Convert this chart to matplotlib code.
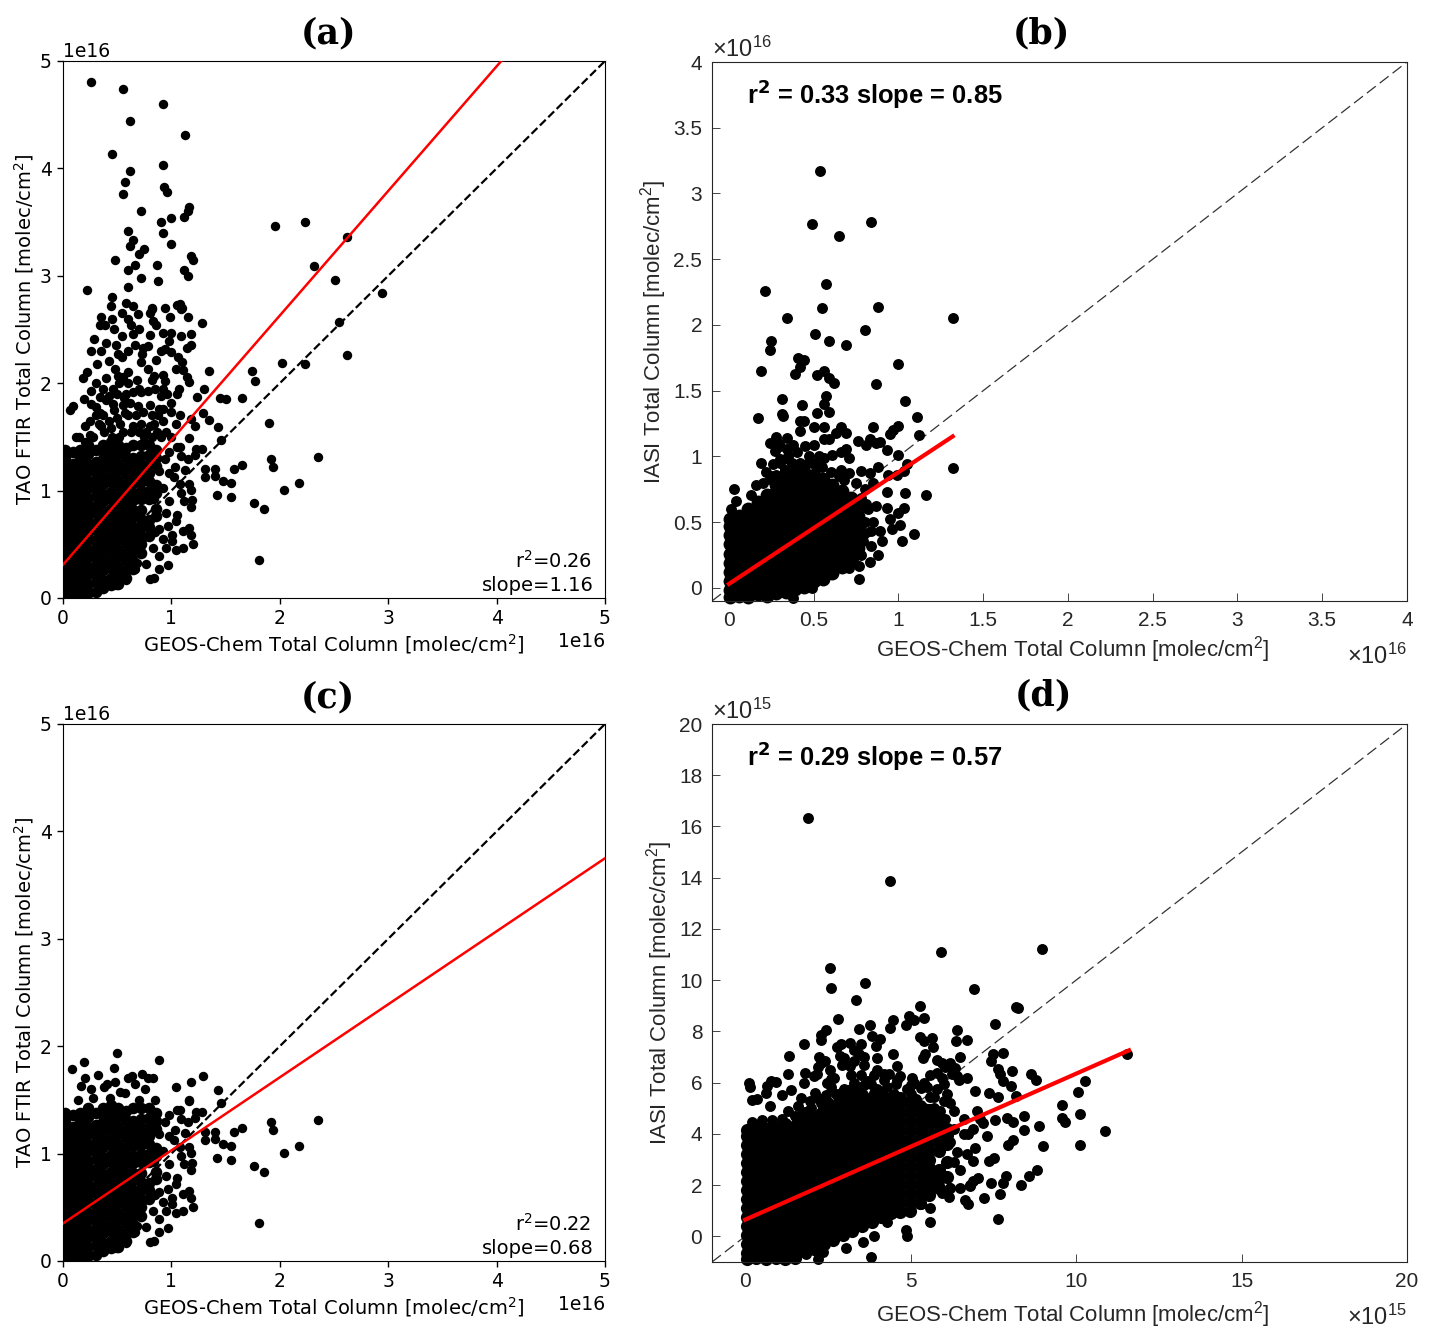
import numpy as np
import matplotlib
matplotlib.use('Agg')
from matplotlib import pyplot as plt

# everything below in units of 1e16 (a, b, c) or 1e15 (d)

# dense part shared by panels a and c, one entry per x column
cloud_ac = [
    (0.02, [0.02, 0.1, 0.17, 0.26, 0.33, 0.42, 0.49, 0.58, 0.65, 0.74, 0.81, 0.9, 0.97, 1.06, 1.13, 1.22, 1.3, 1.38]),
    (0.09, [0.05, 0.13, 0.22, 0.29, 0.38, 0.45, 0.54, 0.61, 0.7, 0.77, 0.86, 0.93, 1.02, 1.09, 1.18, 1.25, 1.36]),
    (0.16, [0.02, 0.09, 0.18, 0.25, 0.34, 0.41, 0.5, 0.57, 0.66, 0.73, 0.82, 0.89, 0.98, 1.05, 1.14, 1.21, 1.3, 1.38]),
    (0.23, [0.05, 0.13, 0.22, 0.29, 0.38, 0.45, 0.54, 0.61, 0.7, 0.77, 0.86, 0.93, 1.02, 1.09, 1.18, 1.25, 1.34, 1.42]),
    (0.30, [0.06, 0.15, 0.22, 0.31, 0.38, 0.47, 0.54, 0.63, 0.7, 0.79, 0.86, 0.95, 1.02, 1.11, 1.18, 1.27, 1.38]),
    (0.37, [0.09, 0.17, 0.26, 0.33, 0.42, 0.49, 0.58, 0.65, 0.74, 0.81, 0.9, 0.97, 1.06, 1.13, 1.22, 1.29, 1.37, 1.42]),
    (0.44, [0.12, 0.19, 0.28, 0.35, 0.44, 0.51, 0.6, 0.67, 0.76, 0.83, 0.92, 0.99, 1.08, 1.15, 1.24, 1.31, 1.39, 1.45]),
    (0.51, [0.13, 0.22, 0.29, 0.38, 0.45, 0.54, 0.61, 0.7, 0.77, 0.86, 0.93, 1.02, 1.09, 1.18, 1.25, 1.34, 1.42]),
    (0.58, [0.19, 0.26, 0.35, 0.42, 0.51, 0.58, 0.67, 0.74, 0.83, 0.9, 0.99, 1.06, 1.15, 1.22, 1.31, 1.4]),
    (0.65, [0.27, 0.34, 0.43, 0.5, 0.59, 0.66, 0.75, 0.82, 0.91, 0.98, 1.07, 1.14, 1.23, 1.3, 1.42]),
    (0.72, [0.42, 0.5, 0.58, 0.66, 0.74, 0.82, 0.92, 1.0, 1.08, 1.16, 1.24, 1.32, 1.42]),
    (0.79, [0.58, 0.66, 0.73, 0.92, 1.0, 1.09, 1.16, 1.25, 1.33, 1.42]),
    (0.86, [0.76, 0.83, 0.98, 1.05, 1.23, 1.3, 1.38]),
]
edge_ac_x = [0.89, 0.94, 0.98, 1.03, 0.98, 1.05, 1.09, 1.15, 1.13, 1.16, 1.22, 1.28, 1.23, 1.08, 1.02, 1.08, 1.16, 1.18,
             1.09, 1.19, 1.12, 1.18, 0.92, 0.98, 0.95, 1.05, 1.04, 0.97, 1.01, 1.01, 1.11, 1.16, 1.18, 1.2, 1.11, 1.04,
             0.95, 0.92, 0.89, 0.83, 0.89, 0.97, 0.89, 0.84, 0.8, 0.77, 0.68, 0.66, 0.58, 0.49, 0.84, 0.85, 0.75, 0.71,
             1.46, 1.31, 1.31, 1.4, 1.4, 1.48, 1.55, 1.58, 1.65, 1.42, 1.55, 1.76, 1.85, 1.81, 1.92, 1.94, 2.04, 2.18, 2.35]
edge_ac_y = [1.18, 1.29, 1.16, 1.22, 1.36, 1.41, 1.32, 1.29, 1.19, 1.49, 1.33, 1.39, 1.39, 1.41, 1.13, 1.06, 1.06, 1.01,
             0.98, 0.91, 0.9, 0.85, 1.02, 0.9, 0.79, 0.77, 0.72, 0.67, 0.59, 0.53, 0.62, 0.65, 0.59, 0.5, 0.47, 0.45,
             0.47, 0.55, 0.64, 0.47, 0.39, 0.31, 0.27, 0.19, 0.18, 0.32, 0.33, 0.27, 0.17, 0.12, 0.92, 0.61, 0.57, 0.42,
             1.47, 1.2, 1.13, 1.2, 1.14, 1.09, 1.07, 1.2, 1.24, 0.96, 0.94, 0.88, 0.83, 0.35, 1.29, 1.22, 1.01, 1.07, 1.31]

# panel a only, above the shared part
extra_a_x = [0.26, 0.55, 0.92, 0.62, 1.13, 0.45, 0.92, 0.62, 0.57, 0.93, 0.96, 0.55, 1.16, 1.15, 1.0, 0.72, 0.9, 1.12, 0.6, 0.65,
             0.92, 0.62, 1.0, 0.75, 0.7, 1.18, 1.2, 0.87, 0.48, 0.66, 0.6, 1.12, 1.15, 0.72, 0.88, 0.6, 0.22, 0.45, 0.44, 1.08,
             0.82, 0.8, 1.1, 1.15, 1.96, 2.23, 2.62, 2.32, 2.51, 2.94, 2.55, 2.62,
             1.28, 0.35, 0.34, 0.39, 0.54, 0.63, 0.69, 0.6, 0.82, 0.94, 1.05, 1.09, 0.99, 0.83, 0.86, 0.92, 1.0, 1.09, 1.18,
             0.98, 1.18, 0.94, 1.0, 1.14, 1.06, 0.86, 0.65, 0.66, 0.74, 0.73, 0.51, 0.54, 0.49, 0.54, 0.4, 0.29, 0.26, 0.42,
             0.31, 0.22, 0.18, 0.48, 0.51, 0.55, 0.78, 0.84, 0.92, 0.94, 0.82, 1.04, 1.11, 1.35, 1.14, 1.16, 1.07, 0.92, 0.68,
             0.6, 0.37, 0.26, 0.46, 0.65, 0.78, 0.72, 0.9, 1.24, 1.3, 1.45, 1.5, 1.65, 1.74, 1.77, 2.02, 2.23, 1.9, 0.19,
             0.26, 0.09, 0.06, 0.34, 0.4, 0.34, 0.46, 0.56, 0.55, 0.69, 0.74, 0.89, 0.92, 1.0, 1.08, 0.82, 1.29, 1.18, 1.35,
             1.04, 1.43, 1.22, 0.2, 0.25, 0.3, 0.35, 0.42, 0.45, 0.5, 0.55, 0.6, 0.65, 0.7, 0.77, 0.84, 0.87, 0.92, 0.88,
             0.15, 0.2, 0.28, 0.38, 0.52,
             0.12, 0.25, 0.33, 0.37, 0.44, 0.47, 0.53, 0.57, 0.63, 0.67, 0.72, 0.75, 0.8, 0.82, 0.9, 0.95, 1.0, 0.58, 0.5, 0.3,
             0.42, 0.52, 0.62, 0.7, 0.8, 0.85, 0.96, 1.0, 1.05, 0.3, 0.4, 0.6, 0.72, 0.35, 0.6, 0.8, 0.7, 0.47, 0.58, 0.65,
             0.45, 0.78, 0.9, 1.1]
extra_a_y = [4.8, 4.74, 4.6, 4.44, 4.31, 4.13, 4.03, 3.98, 3.87, 3.83, 3.78, 3.76, 3.64, 3.6, 3.54, 3.6, 3.5, 3.55, 3.42, 3.33,
             3.4, 3.28, 3.3, 3.25, 3.2, 3.18, 3.15, 3.1, 3.15, 3.1, 3.05, 3.05, 3.0, 2.98, 2.95, 2.9, 2.87, 2.8, 2.72, 2.74,
             2.7, 2.65, 2.7, 2.62, 3.46, 3.5, 3.36, 3.09, 2.96, 2.84, 2.57, 2.26,
             2.56, 2.62, 2.54, 2.54, 2.65, 2.54, 2.64, 2.6, 2.69, 2.7, 2.73, 2.69, 2.62, 2.58, 2.54, 2.47, 2.47, 2.44, 2.46,
             2.39, 2.36, 2.32, 2.29, 2.33, 2.24, 2.22, 2.46, 2.36, 2.33, 2.27, 2.27, 2.24, 2.36, 2.44, 2.37, 2.41, 2.3, 2.21,
             2.18, 2.1, 2.05, 2.13, 2.07, 2.06, 2.13, 2.07, 2.08, 2.02, 2.03, 2.13, 2.12, 2.11, 2.06, 2.01, 1.95, 1.95, 2.03,
             2.0, 1.95, 1.93, 1.95, 1.92, 1.93, 1.92, 1.88, 1.87, 1.95, 1.86, 1.85, 1.86, 2.11, 2.02, 2.19, 2.18, 1.63, 1.85,
             1.81, 1.79, 1.75, 1.87, 1.84, 1.72, 1.81, 1.86, 1.8, 1.79, 1.73, 1.76, 1.76, 1.73, 1.7, 1.7, 1.72, 1.67, 1.66,
             1.62, 1.59, 1.6, 1.6, 1.65, 1.7, 1.6, 1.65, 1.5, 1.68, 1.55, 1.7, 1.6, 1.55, 1.55, 1.62, 1.55, 1.65, 1.7,
             1.5, 1.45, 1.5, 1.55, 1.5,
             1.5, 1.52, 1.62, 1.7, 1.58, 1.75, 1.62, 1.72, 1.55, 1.7, 1.62, 1.5, 1.6, 1.5, 1.5, 1.55, 1.5, 1.9, 1.9, 1.78,
             1.88, 2.0, 1.82, 1.95, 1.8, 1.95, 1.9, 1.82, 1.9, 2.0, 2.05, 2.1, 2.2, 2.3, 2.3, 2.45, 2.5, 2.5, 2.75, 2.72,
             2.6, 2.35, 2.3, 2.2]

# panel c only, above the shared part
extra_c_x = [0.5, 0.89, 0.19, 0.08, 0.47, 1.29, 0.73, 0.2, 0.32, 0.83, 0.78, 1.18, 1.04, 1.43, 0.48, 0.64, 0.6, 0.17, 0.41, 0.38,
             0.53, 0.57, 0.66, 0.76, 0.26, 0.28, 0.14, 0.85, 1.16, 0.43, 0.7]
extra_c_y = [1.94, 1.87, 1.85, 1.79, 1.8, 1.72, 1.74, 1.7, 1.73, 1.7, 1.7, 1.67, 1.62, 1.59, 1.67, 1.72, 1.7, 1.63, 1.65, 1.62,
             1.57, 1.56, 1.65, 1.6, 1.6, 1.52, 1.5, 1.5, 1.5, 1.52, 1.5]

# panel b
cloud_b = [
    (0.005, [-0.07, -0.02, 0.05, 0.12, 0.19, 0.26, 0.33, 0.4, 0.47, 0.52]),
    (0.06, [-0.06, 0.01, 0.08, 0.15, 0.22, 0.29, 0.36, 0.43, 0.5, 0.55]),
    (0.115, [-0.07, -0.01, 0.06, 0.13, 0.2, 0.27, 0.34, 0.41, 0.48, 0.55, 0.6]),
    (0.17, [-0.05, 0.02, 0.09, 0.16, 0.23, 0.3, 0.37, 0.44, 0.51, 0.58, 0.65]),
    (0.225, [-0.06, 0.0, 0.07, 0.14, 0.21, 0.28, 0.35, 0.42, 0.49, 0.56, 0.63, 0.71]),
    (0.28, [-0.04, 0.03, 0.1, 0.17, 0.24, 0.31, 0.38, 0.45, 0.52, 0.59, 0.66, 0.73, 0.78]),
    (0.335, [-0.03, 0.02, 0.09, 0.16, 0.23, 0.3, 0.37, 0.44, 0.51, 0.58, 0.65, 0.72, 0.79, 0.83]),
    (0.39, [-0.01, 0.05, 0.12, 0.19, 0.26, 0.33, 0.4, 0.47, 0.54, 0.61, 0.68, 0.75, 0.82, 0.87]),
    (0.445, [0.01, 0.07, 0.14, 0.21, 0.28, 0.35, 0.42, 0.49, 0.56, 0.63, 0.7, 0.77, 0.84, 0.88]),
    (0.5, [0.05, 0.11, 0.18, 0.25, 0.32, 0.39, 0.46, 0.53, 0.6, 0.67, 0.74, 0.81, 0.86]),
    (0.555, [0.07, 0.13, 0.2, 0.27, 0.34, 0.41, 0.48, 0.55, 0.62, 0.69, 0.76, 0.83]),
    (0.61, [0.11, 0.17, 0.24, 0.31, 0.38, 0.45, 0.52, 0.59, 0.66, 0.73, 0.78]),
    (0.665, [0.16, 0.22, 0.29, 0.36, 0.43, 0.5, 0.57, 0.64, 0.71, 0.74]),
    (0.72, [0.21, 0.28, 0.36, 0.43, 0.5, 0.57, 0.64, 0.68]),
    (0.76, [0.3, 0.38, 0.47, 0.55, 0.6]),
]
extra_b_x = [0.54, 0.49, 0.84, 0.65, 0.57, 0.21, 0.55, 0.88, 0.34, 1.32, 0.51, 0.8, 0.59, 0.69, 0.25, 0.24, 1.0, 0.19, 0.41, 0.44,
             0.42, 0.39, 0.52, 0.56, 0.59, 0.62, 0.87, 0.31, 0.57, 0.56, 0.43, 1.04, 0.31, 0.17, 0.52, 0.59, 1.11,
             0.32, 0.42, 0.44, 0.5, 0.56, 0.63, 0.66, 0.69, 0.85, 1.0, 0.97, 0.95, 1.12, 0.76, 0.83, 0.81, 0.89, 0.87, 0.93,
             1.0, 0.42, 0.34, 0.28, 0.24, 0.27, 0.19, 0.26, 0.38, 0.45, 0.5, 0.56, 0.59, 0.69, 0.66, 0.61, 0.56, 0.71, 0.66,
             0.88, 1.05, 1.32, 0.78, 0.83, 0.71, 0.94, 1.03, 0.99, 0.85, 0.93, 1.04, 1.16, 0.81, 0.87, 0.93, 1.03, 1.0, 0.95,
             1.01, 0.96, 0.89, 1.09, 1.02, 0.9, 0.84, 0.79, 0.88, 0.83, 0.77, 0.77, 0.71, 0.75, 0.38, 0.49, 0.03, 0.04, 0.01,
             0.13, 0.16, 0.2, 0.24, 0.28, 0.3, 0.35, 0.47, 0.53, 0.37, 0.33, 0.22,
             0.25, 0.3, 0.35, 0.33, 0.42, 0.47, 0.4, 0.55, 0.6, 0.65, 0.68, 0.75, 0.8, 0.78, 0.82, 0.85, 0.8, 0.84, 0.78, 0.73,
             0.8, 0.3, 0.34, 0.29, 0.49, 0.52]
extra_b_y = [3.17, 2.77, 2.78, 2.68, 2.31, 2.26, 2.13, 2.14, 2.05, 2.05, 1.93, 1.96, 1.88, 1.85, 1.88, 1.81, 1.7, 1.65, 1.75, 1.73,
             1.68, 1.63, 1.62, 1.65, 1.6, 1.56, 1.55, 1.44, 1.46, 1.4, 1.39, 1.42, 1.32, 1.29, 1.33, 1.34, 1.3,
             1.31, 1.27, 1.27, 1.22, 1.22, 1.18, 1.22, 1.18, 1.22, 1.23, 1.2, 1.17, 1.16, 1.12, 1.13, 1.09, 1.11, 1.1, 1.05,
             1.01, 1.19, 1.14, 1.15, 1.1, 1.04, 0.95, 0.94, 1.09, 1.08, 1.09, 1.13, 1.13, 1.06, 1.03, 1.01, 0.99, 0.99, 0.9,
             0.92, 0.94, 0.91, 0.89, 0.87, 0.87, 0.86, 0.89, 0.86, 0.8, 0.73, 0.72, 0.71, 0.64, 0.62, 0.61, 0.61, 0.57, 0.52,
             0.48, 0.45, 0.43, 0.41, 0.36, 0.36, 0.43, 0.36, 0.25, 0.2, 0.07, 0.17, 0.15, 0.3, -0.08, 0.0, 0.75, 0.66, 0.6,
             0.71, 0.78, 0.8, 0.83, 0.86, 0.98, 0.98, 0.96, 1.0, 0.95, 0.9, 0.88,
             0.85, 0.95, 1.0, 0.9, 0.95, 1.0, 1.03, 0.92, 0.88, 0.85, 0.82, 0.8, 0.75, 0.68, 0.6, 0.5, 0.5, 0.32, 0.25, 0.22,
             0.42, 1.08, 1.06, 1.1, 0.95, 0.93]

# panel d
cloud_d = [
    (0.05, [-0.9, -0.65, -0.3, 0.05, 0.4, 0.75, 1.1, 1.45, 1.8, 2.15, 2.5, 2.85, 3.2, 3.55, 3.9, 4.15]),
    (0.34, [-0.83, -0.48, -0.13, 0.22, 0.57, 0.92, 1.27, 1.62, 1.97, 2.32, 2.67, 3.02, 3.37, 3.72, 4.07, 4.25]),
    (0.63, [-0.9, -0.65, -0.3, 0.05, 0.4, 0.75, 1.1, 1.45, 1.8, 2.15, 2.5, 2.85, 3.2, 3.55, 3.9, 4.2]),
    (0.92, [-0.83, -0.48, -0.13, 0.22, 0.57, 0.92, 1.27, 1.62, 1.97, 2.32, 2.67, 3.02, 3.37, 3.72, 4.07, 4.25]),
    (1.21, [-0.9, -0.65, -0.3, 0.05, 0.4, 0.75, 1.1, 1.45, 1.8, 2.15, 2.5, 2.85, 3.2, 3.55, 3.9, 4.25, 4.4]),
    (1.5, [-0.83, -0.48, -0.13, 0.22, 0.57, 0.92, 1.27, 1.62, 1.97, 2.32, 2.67, 3.02, 3.37, 3.72, 4.07, 4.3]),
    (1.79, [-0.3, 0.05, 0.4, 0.75, 1.1, 1.45, 1.8, 2.15, 2.5, 2.85, 3.2, 3.55, 3.9, 4.25, 4.5]),
    (2.08, [-0.48, -0.13, 0.22, 0.57, 0.92, 1.27, 1.62, 1.97, 2.32, 2.67, 3.02, 3.37, 3.72, 4.07, 4.42, 4.7]),
    (2.37, [-0.3, 0.05, 0.4, 0.75, 1.1, 1.45, 1.8, 2.15, 2.5, 2.85, 3.2, 3.55, 3.9, 4.25, 4.6, 4.9]),
    (2.66, [-0.13, 0.22, 0.57, 0.92, 1.27, 1.62, 1.97, 2.32, 2.67, 3.02, 3.37, 3.72, 4.07, 4.42, 4.77, 5.05]),
    (2.95, [0.05, 0.4, 0.75, 1.1, 1.45, 1.8, 2.15, 2.5, 2.85, 3.2, 3.55, 3.9, 4.25, 4.6, 4.95, 5.2]),
    (3.24, [0.22, 0.57, 0.92, 1.27, 1.62, 1.97, 2.32, 2.67, 3.02, 3.37, 3.72, 4.07, 4.42, 4.77, 5.12, 5.35]),
    (3.53, [0.4, 0.75, 1.1, 1.45, 1.8, 2.15, 2.5, 2.85, 3.2, 3.55, 3.9, 4.25, 4.6, 4.95, 5.3, 5.5]),
    (3.82, [0.57, 0.92, 1.27, 1.62, 1.97, 2.32, 2.67, 3.02, 3.37, 3.72, 4.07, 4.42, 4.77, 5.12, 5.4]),
    (4.11, [0.75, 1.1, 1.45, 1.8, 2.15, 2.5, 2.85, 3.2, 3.55, 3.9, 4.25, 4.6, 4.95, 5.3, 5.55]),
    (4.4, [0.92, 1.27, 1.62, 1.97, 2.32, 2.67, 3.02, 3.37, 3.72, 4.07, 4.42, 4.77, 5.12, 5.4]),
    (4.69, [0.95, 1.3, 1.65, 2.0, 2.35, 2.7, 3.05, 3.4, 3.75, 4.1, 4.45, 4.8, 5.15, 5.4]),
    (4.98, [1.0, 1.35, 1.7, 2.05, 2.4, 2.75, 3.1, 3.45, 3.8, 4.15, 4.5, 4.85, 5.2]),
    (5.27, [1.3, 1.65, 2.0, 2.35, 2.7, 3.05, 3.4, 3.75, 4.1, 4.45, 4.8, 5.1]),
    (5.56, [1.6, 1.95, 2.3, 2.65, 3.0, 3.35, 3.7, 4.05, 4.4, 4.75, 4.95]),
    (5.85, [1.9, 2.25, 2.6, 3.35, 3.7, 4.05, 4.4, 4.6]),
    (6.1, [2.3, 2.9, 3.6, 3.95, 4.2]),
]
extra_d_x = [1.9, 4.38, 5.92, 8.97, 2.57, 2.6, 3.63, 3.35, 6.92, 8.25,
             5.27, 8.2, 7.56, 2.8, 4.47, 4.37, 4.94, 5.09, 4.87, 5.42, 3.77, 3.43, 2.45, 2.28, 2.28, 3.84, 4.09, 6.4, 6.36, 6.72,
             5.29, 5.64, 5.41, 5.69, 1.78, 1.33, 2.78, 2.9, 3.18, 3.5, 3.96, 3.3, 2.88, 2.23, 2.3, 3.58, 4.0, 4.47, 5.44, 5.39,
             6.48, 5.79, 7.78, 7.5, 7.42, 11.55, 7.65, 8.05, 7.7, 7.78, 8.65, 8.78, 8.02, 8.2, 7.38, 7.63, 6.95, 6.7, 10.26,
             10.06, 9.58, 10.13, 9.58, 9.66, 10.86, 10.13, 8.99, 8.89, 8.43, 8.43, 8.1, 7.9, 8.1, 7.93, 7.55, 7.32, 7.2, 7.53,
             7.37, 6.95, 6.88, 8.81, 8.58, 8.33, 7.88, 7.78, 7.43, 7.05, 6.8, 7.23, 7.7, 7.65, 6.65, 6.73, 0.12, 0.14, 0.62,
             0.67, 0.77, 0.92, 1.3, 1.12, 1.38, 0.22, 0.37, 0.75, 1.8, 2.18, 2.08, 1.78, 2.48, 2.68, 2.58, 2.93, 3.18, 3.58,
             3.99, 4.59, 4.34, 4.69, 5.04, 5.94, 6.35, 6.4, 5.79,
             1.5, 1.6, 1.7, 1.9, 1.95, 2.1, 2.3, 2.45, 2.6, 2.75, 3.0, 3.05, 3.3, 3.45, 3.7, 3.8, 4.2, 4.3, 4.55, 4.9, 5.1, 5.3,
             5.5, 5.6, 5.8, 6.0, 6.1, 6.2, 6.2, 6.4, 6.3, 6.5, 6.7, 6.2, 6.5, 6.8, 6.9, 5.95, 6.15, 5.6, 5.3, 5.6, 4.3, 4.85,
             4.9, 3.9, 3.55, 3.05, 3.8, 2.2, 2.35, 1.65, 1.85, 6.3, 6.6, 6.75, 6.6, 6.9, 7.0, 7.1, 6.3, 6.0, 5.7, 6.2,
             2.0, 2.2, 2.5, 2.8, 2.9, 3.1, 3.2, 3.4, 3.55, 3.6, 3.9, 4.0, 4.15, 4.3, 4.5, 4.7, 5.0, 5.15, 5.4, 5.7, 5.9, 6.05,
             1.3, 1.1, 0.8, 0.5, 0.2, 1.75, 2.3, 2.6, 3.2, 3.5, 3.9, 4.2, 4.6, 5.0, 5.4, 5.6, 6.05, 6.25, 6.45, 6.2, 5.95, 2.6,
             2.2, 2.4, 3.0, 3.3, 3.45]
extra_d_y = [16.33, 13.87, 11.09, 11.21, 10.47, 9.69, 9.88, 9.22, 9.65, 8.9,
             8.98, 8.95, 8.3, 8.49, 8.44, 8.14, 8.59, 8.44, 8.24, 8.53, 8.27, 8.1, 8.05, 7.88, 7.68, 7.81, 7.71, 8.05, 7.62, 7.66,
             7.79, 7.75, 7.62, 7.4, 7.49, 7.06, 7.38, 7.49, 7.55, 7.49, 7.42, 7.29, 7.03, 7.0, 6.77, 7.0, 6.97, 7.1, 7.1, 6.97,
             7.0, 6.9, 7.16, 7.1, 6.86, 7.12, 6.54, 6.45, 6.32, 6.08, 6.32, 6.12, 5.86, 5.47, 5.6, 5.43, 5.66, 6.18, 6.05,
             5.65, 5.13, 4.78, 4.62, 4.45, 4.13, 3.57, 3.54, 4.3, 4.69, 4.17, 4.45, 4.62, 3.78, 3.58, 4.56, 3.91, 4.43, 3.06,
             2.93, 3.45, 2.93, 2.58, 2.37, 2.02, 2.34, 2.08, 2.08, 2.28, 1.95, 1.5, 1.65, 0.68, 1.41, 1.26, 5.99, 5.83, 5.6,
             5.86, 6.05, 6.02, 6.32, 5.53, 5.7, 5.34, 5.36, 5.1, 6.38, 6.34, 6.25, 5.99, 5.99, 6.18, 6.51, 6.7, 6.67, 6.7,
             6.51, 6.64, 6.32, 6.25, 6.18, 6.77, 6.58, 6.25, 6.38,
             4.7, 5.1, 5.4, 4.9, 5.3, 5.6, 5.2, 5.5, 5.85, 5.55, 5.75, 5.4, 6.0, 5.8, 6.05, 5.95, 6.1, 5.85, 5.95, 5.75, 6.0, 5.8,
             5.85, 5.45, 5.75, 5.95, 5.55, 3.7, 1.9, 3.3, 2.9, 2.6, 3.2, 1.9, 1.9, 2.0, 2.15, 1.7, 1.55, 1.1, 1.25, 0.55, 0.55,
             0.25, 0.0, 0.0, -0.2, -0.45, -0.8, -0.9, -0.6, -0.6, -0.7, 4.2, 4.0, 4.0, 4.6, 4.2, 4.9, 4.6, 4.9, 5.3, 5.45, 5.2,
             5.0, 5.4, 5.25, 5.3, 5.6, 5.6, 5.75, 5.55, 5.3, 5.9, 5.6, 5.75, 5.45, 5.35, 5.55, 5.3, 5.55, 5.35, 5.0, 5.0, 4.9, 4.6,
             4.9, 4.6, 4.55, 4.55, 4.45, 4.85, 4.85, 4.9, 6.3, 6.3, 6.3, 6.35, 6.1, 5.9, 6.0, 6.3, 6.6, 6.35, 6.1, 6.75, 6.2, 6.15,
             6.6, 6.85, 6.95, 6.85, 7.1]

# regression lines: intercept, slope, end of the drawn line
fit_a = (0.31, 1.16, 5.0)
fit_c = (0.35, 0.68, 5.0)
fit_b = (0.03, 0.85, 1.32)
fit_d = (0.65, 0.57, 11.6)

LIGHT = '#262626'


def expand(cols):
    xs = np.concatenate([[c[0]] * len(c[1]) for c in cols])
    ys = np.concatenate([c[1] for c in cols])
    return xs, ys


def axes_px(left, top, right, bottom):
    W, H = 1431.0, 1341.0
    return fig.add_axes([left / W, 1 - bottom / H, (right - left) / W, (bottom - top) / H])


def title_px(txt, x, y):
    fig.text(x / 1431.0, 1 - y / 1341.0, txt, ha='center', va='center', fontsize=25,
             fontweight='bold', family='DejaVu Serif')


def left_panel(ax, core, x, y, fit, txt):
    # the saturated core gets a bigger marker so the typed columns close up into a solid blob
    ax.scatter(core[0] * 1e16, core[1] * 1e16, s=70, c='k', linewidths=0, zorder=2)
    ax.scatter(np.array(x) * 1e16, np.array(y) * 1e16, s=46, c='k', linewidths=0, zorder=2)
    ax.plot([0, 5e16], [0, 5e16], 'k--', lw=1.6, zorder=3)
    xx = np.array([0, fit[2]])
    ax.plot(xx * 1e16, (fit[0] + fit[1] * xx) * 1e16, color='red', lw=1.8, zorder=4)
    ax.set_xlim(0, 5e16)
    ax.set_ylim(0, 5e16)
    ax.tick_params(labelsize=13.5, length=4.5, width=1)
    ax.xaxis.get_offset_text().set_size(13.5)
    ax.yaxis.get_offset_text().set_size(13.5)
    ax.set_xlabel('GEOS-Chem Total Column [molec/cm$^2$]', fontsize=14, labelpad=3)
    ax.set_ylabel('TAO FTIR Total Column [molec/cm$^2$]', fontsize=14, labelpad=3)
    ax.text(0.975, 0.049, txt[0], transform=ax.transAxes, ha='right', va='bottom', fontsize=14)
    ax.text(0.98, 0.006, txt[1], transform=ax.transAxes, ha='right', va='bottom', fontsize=14)


def right_panel(ax, core, x, y, fit, lim, ticks, power, txt, size, core_size, lab_pad):
    ax.plot(lim, lim, color='#333333', ls=(0, (9, 4)), lw=0.9, zorder=1)
    ax.scatter(core[0], core[1], s=core_size, c='k', linewidths=0, zorder=2, clip_on=False)
    ax.scatter(x, y, s=size, c='k', linewidths=0, zorder=2, clip_on=False)
    xx = np.array([0, fit[2]])
    ax.plot(xx, fit[0] + fit[1] * xx, color='red', lw=3, zorder=4)
    ax.set_xlim(lim)
    ax.set_ylim(lim)
    ax.set_xticks(ticks)
    ax.set_yticks(ticks)
    ax.set_xticklabels(['%g' % t for t in ticks])
    ax.set_yticklabels(['%g' % t for t in ticks])
    ax.tick_params(direction='in', labelsize=15, length=6, width=0.6, colors=LIGHT, pad=7)
    for s in ax.spines.values():
        s.set_linewidth(0.8)
        s.set_color(LIGHT)
    ax.set_xlabel('GEOS-Chem Total Column [molec/cm$\\mathregular{^2}$]', fontsize=16, color=LIGHT, labelpad=lab_pad, x=0.519)
    ax.set_ylabel('IASI Total Column [molec/cm$\\mathregular{^2}$]', fontsize=16, color=LIGHT, labelpad=3)
    ax.text(0.0, 1.0, '$\\mathregular{\\times 10^{%d}}$' % power, transform=ax.transAxes,
            ha='left', va='bottom', fontsize=17, color=LIGHT)
    ax.text(1.0, -0.08, '$\\mathregular{\\times 10^{%d}}$' % power, transform=ax.transAxes,
            ha='right', va='top', fontsize=17, color=LIGHT)
    ax.text(0.05, 0.94, txt, transform=ax.transAxes, ha='left', va='center', fontsize=18.4,
            fontweight='bold', color='k')


plt.rcParams['font.family'] = ['DejaVu Sans']
plt.rcParams['mathtext.default'] = 'regular'

fig = plt.figure(figsize=(14.31, 13.41), dpi=100)

core_ac = expand(cloud_ac)

ax1 = axes_px(63, 61, 605, 598)
left_panel(ax1, core_ac, edge_ac_x + extra_a_x, edge_ac_y + extra_a_y, fit_a, ['r$^2$=0.26', 'slope=1.16'])

ax3 = axes_px(63, 724, 605, 1261)
left_panel(ax3, core_ac, edge_ac_x + extra_c_x, edge_ac_y + extra_c_y, fit_c, ['r$^2$=0.22', 'slope=0.68'])

plt.rcParams['font.family'] = ['Liberation Sans', 'DejaVu Sans']

ax2 = axes_px(712, 62, 1407, 601)
right_panel(ax2, expand(cloud_b), extra_b_x, extra_b_y, fit_b, [-0.1, 4], [0, 0.5, 1, 1.5, 2, 2.5, 3, 3.5, 4], 16,
            'r$\\mathbf{^2}$ = 0.33 slope = 0.85', 62, 100, 3)

ax4 = axes_px(712, 724, 1407, 1262)
right_panel(ax4, expand(cloud_d), extra_d_x, extra_d_y, fit_d, [-1, 20], [0, 5, 10, 15, 20], 15,
            'r$\\mathbf{^2}$ = 0.29 slope = 0.57', 62, 90, 6)
ax4.set_yticks(np.arange(0, 21, 2))
ax4.set_yticklabels([str(t) for t in range(0, 21, 2)])

title_px('(a)', 328, 33)
title_px('(b)', 1041, 33)
title_px('(c)', 328, 697)
title_px('(d)', 1043, 695)

fig.savefig('out.png', dpi=100)
